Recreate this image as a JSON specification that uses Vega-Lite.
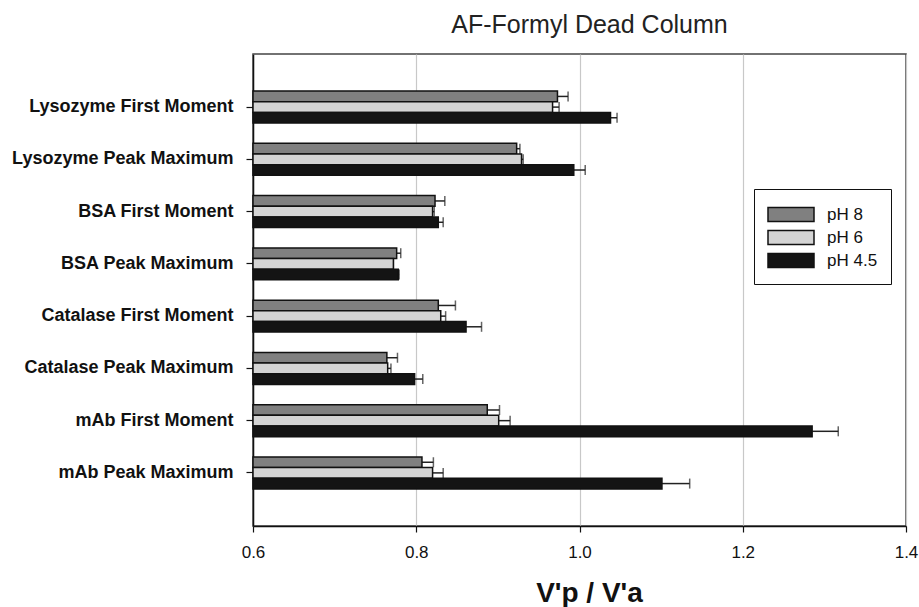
{
  "$schema": "https://vega.github.io/schema/vega-lite/v6.json",
  "width": 653,
  "height": 472,
  "autosize": "none",
  "padding": {"left": 253, "top": 54, "right": 13, "bottom": 81},
  "background": "white",
  "config": {
    "font": "Liberation Sans",
    "view": {"stroke": "#444", "strokeWidth": 1.5}
  },
  "title": {
    "text": "AF-Formyl Dead Column",
    "fontSize": 25,
    "fontWeight": "normal",
    "color": "#222",
    "anchor": "middle",
    "dx": 10,
    "offset": 16
  },
  "data": {
    "values": [
      {"category": "Lysozyme First Moment", "ph": "pH 8", "value": 0.973, "upper": 0.986},
      {"category": "Lysozyme First Moment", "ph": "pH 6", "value": 0.967, "upper": 0.975},
      {"category": "Lysozyme First Moment", "ph": "pH 4.5", "value": 1.038, "upper": 1.046},
      {"category": "Lysozyme Peak Maximum", "ph": "pH 8", "value": 0.923, "upper": 0.927},
      {"category": "Lysozyme Peak Maximum", "ph": "pH 6", "value": 0.929, "upper": 0.931},
      {"category": "Lysozyme Peak Maximum", "ph": "pH 4.5", "value": 0.993, "upper": 1.007},
      {"category": "BSA First Moment", "ph": "pH 8", "value": 0.823, "upper": 0.835},
      {"category": "BSA First Moment", "ph": "pH 6", "value": 0.820, "upper": 0.822},
      {"category": "BSA First Moment", "ph": "pH 4.5", "value": 0.827, "upper": 0.833},
      {"category": "BSA Peak Maximum", "ph": "pH 8", "value": 0.776, "upper": 0.781},
      {"category": "BSA Peak Maximum", "ph": "pH 6", "value": 0.772, "upper": 0.772},
      {"category": "BSA Peak Maximum", "ph": "pH 4.5", "value": 0.778, "upper": 0.779},
      {"category": "Catalase First Moment", "ph": "pH 8", "value": 0.827, "upper": 0.848},
      {"category": "Catalase First Moment", "ph": "pH 6", "value": 0.830, "upper": 0.836},
      {"category": "Catalase First Moment", "ph": "pH 4.5", "value": 0.861, "upper": 0.880},
      {"category": "Catalase Peak Maximum", "ph": "pH 8", "value": 0.764, "upper": 0.777},
      {"category": "Catalase Peak Maximum", "ph": "pH 6", "value": 0.765, "upper": 0.769},
      {"category": "Catalase Peak Maximum", "ph": "pH 4.5", "value": 0.798, "upper": 0.808},
      {"category": "mAb First Moment", "ph": "pH 8", "value": 0.887, "upper": 0.902},
      {"category": "mAb First Moment", "ph": "pH 6", "value": 0.901, "upper": 0.915},
      {"category": "mAb First Moment", "ph": "pH 4.5", "value": 1.285, "upper": 1.317},
      {"category": "mAb Peak Maximum", "ph": "pH 8", "value": 0.807, "upper": 0.821},
      {"category": "mAb Peak Maximum", "ph": "pH 6", "value": 0.820, "upper": 0.833},
      {"category": "mAb Peak Maximum", "ph": "pH 4.5", "value": 1.101, "upper": 1.135}
    ]
  },
  "encoding": {
    "y": {
      "field": "category",
      "type": "nominal",
      "sort": null,
      "scale": {"paddingInner": 0.388, "paddingOuter": 0.71},
      "axis": {
        "title": null,
        "labelFont": "Liberation Sans",
        "labelFontSize": 18,
        "labelFontWeight": "bold",
        "labelColor": "#111",
        "labelPadding": 13,
        "labelLimit": 400,
        "tickSize": 7,
        "tickColor": "#111",
        "tickWidth": 1.2,
        "domainColor": "#111",
        "domainWidth": 1.5,
        "grid": false
      }
    },
    "yOffset": {
      "field": "ph",
      "type": "nominal",
      "sort": ["pH 8", "pH 6", "pH 4.5"],
      "scale": {"paddingInner": 0, "paddingOuter": 0}
    }
  },
  "layer": [
    {
      "mark": {"type": "rule", "color": "#222", "strokeWidth": 1.5},
      "encoding": {
        "x": {"field": "value", "type": "quantitative"},
        "x2": {"field": "upper"}
      }
    },
    {
      "mark": {"type": "tick", "color": "#222", "thickness": 1.5, "size": 10, "orient": "vertical"},
      "encoding": {
        "x": {"field": "upper", "type": "quantitative"}
      }
    },
    {
      "mark": {"type": "bar", "stroke": "#111", "strokeWidth": 1.5},
      "encoding": {
        "x": {
          "field": "value",
          "type": "quantitative",
          "scale": {"domain": [0.6, 1.4], "zero": false, "nice": false},
          "axis": {
            "values": [0.6, 0.8, 1.0, 1.2, 1.4],
            "format": ".1f",
            "title": "V'p / V'a",
            "titleFont": "Liberation Sans",
            "titleFontSize": 28,
            "titleFontWeight": "bold",
            "titleColor": "#111",
            "titlePadding": 19,
            "titleX": 336,
            "labelFont": "Liberation Sans",
            "labelFontSize": 17,
            "labelColor": "#111",
            "labelPadding": 12,
            "labelFlush": false,
            "ticks": true,
            "tickSize": 6,
            "tickColor": "#111",
            "tickWidth": 1.2,
            "domainColor": "#111",
            "domainWidth": 1.5,
            "grid": true,
            "gridColor": "#c8c8c8",
            "gridWidth": 1.2
          }
        },
        "x2": {"datum": 0.6},
        "fill": {
          "field": "ph",
          "type": "nominal",
          "scale": {"domain": ["pH 8", "pH 6", "pH 4.5"], "range": ["#808080", "#d4d4d4", "#141414"]},
          "legend": {
            "title": null,
            "orient": "none",
            "legendX": 501,
            "legendY": 135,
            "padding": 13,
            "strokeColor": "#111",
            "fillColor": "white",
            "symbolType": "M-1,-0.6H3V0.6H-1Z",
            "symbolSize": 529,
            "symbolStrokeColor": "#111",
            "symbolStrokeWidth": 1.5,
            "symbolOpacity": 1,
            "labelFont": "Liberation Sans",
            "labelFontSize": 17,
            "labelColor": "#111",
            "labelOffset": 35,
            "rowPadding": 0
          }
        }
      }
    }
  ]
}
